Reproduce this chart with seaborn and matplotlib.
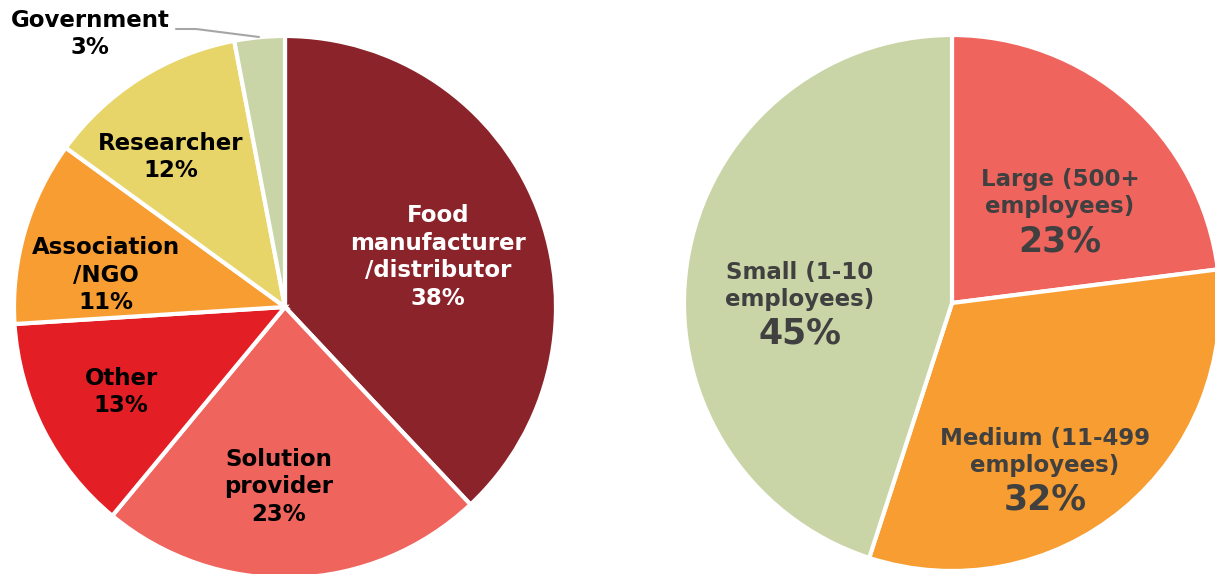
import matplotlib
matplotlib.use("Agg")
import matplotlib.pyplot as plt
import seaborn as sns

# data
left_labels = ["Food\nmanufacturer\n/distributor", "Solution\nprovider", "Other",
               "Association\n/NGO", "Researcher", "Government"]
left_values = [38, 23, 13, 11, 12, 3]
left_colors = ["#8B232A", "#F0645E", "#E31E25", "#F79D31", "#E8D56A", "#C9D5A6"]

right_labels = ["Large (500+\nemployees)", "Medium (11-499\nemployees)", "Small (1-10\nemployees)"]
right_values = [23, 32, 45]
right_colors = ["#F0645E", "#F79D31", "#C9D5A6"]

sns.set_theme(style="white")
plt.rcParams["font.family"] = ["DejaVu Sans"]

W, H = 1215, 574
fig = plt.figure(figsize=(W / 100, H / 100), dpi=100)
ax = fig.add_axes([0, 0, 1, 1])


def py(y):
    # pixel row (from top) -> data y
    return H - y


wedge_kw = dict(edgecolor="white", linewidth=3)
ax.pie(left_values, colors=left_colors, startangle=90, counterclock=False,
       center=(285, py(307)), radius=271, wedgeprops=wedge_kw)
ax.pie(right_values, colors=right_colors, startangle=90, counterclock=False,
       center=(952, py(303)), radius=268, wedgeprops=wedge_kw)

# left labels (layout positions)
left_pos = [(438, 257), (279, 487), (121, 392), (106, 275), (171, 157), (90, 34)]
left_tc = ["white", "black", "black", "black", "black", "black"]
for lab, v, (x, y), c in zip(left_labels, left_values, left_pos, left_tc):
    ax.text(x, py(y), f"{lab}\n{v}%", ha="center", va="center", color=c,
            fontsize=16.5, fontweight="bold", linespacing=1.25)

# leader line for Government
ax.plot([176, 196, 259], [py(29), py(29), py(37)], color="#A6A6A6", lw=1.5)

# right labels
right_pos = [(1060, 193), (1045, 452), (800, 286)]
for lab, v, (x, y) in zip(right_labels, right_values, right_pos):
    ax.text(x, py(y), lab, ha="center", va="center", color="#404040",
            fontsize=16.5, fontweight="bold", linespacing=1.25)
    ax.text(x, py(y + 48), f"{v}%", ha="center", va="center", color="#404040",
            fontsize=25, fontweight="bold")

ax.set_xlim(0, W)
ax.set_ylim(0, H)
ax.axis("off")

plt.savefig("out.png", dpi=100)
